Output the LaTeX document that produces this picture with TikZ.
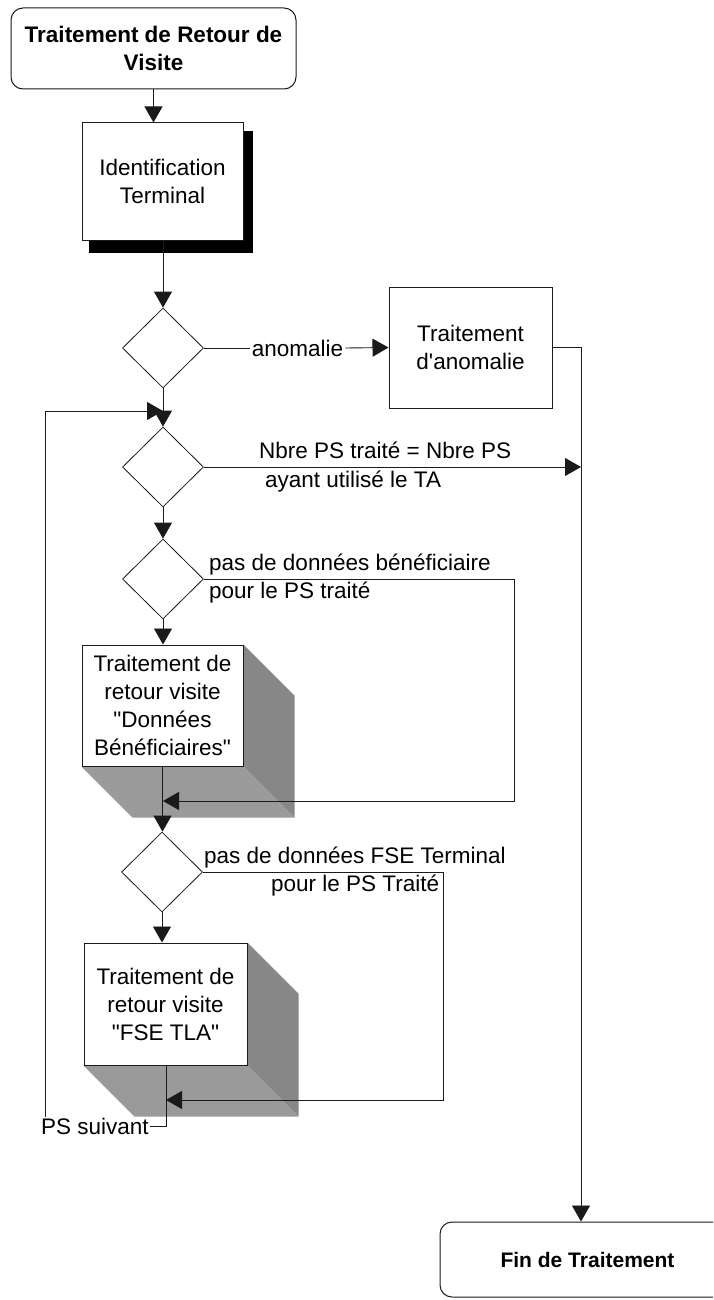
\documentclass[tikz,border=0pt]{standalone}
\usepackage{fontspec}
\setmainfont{Liberation Sans}[Ligatures=TeXOff]
\usetikzlibrary{shapes.geometric,arrows.meta,backgrounds}
\definecolor{ln}{HTML}{1A1A1A}
\definecolor{shA}{HTML}{878787}
\definecolor{shB}{HTML}{9A9A9A}
\tikzset{
  fnt/.style={font=\fontsize{22.5}{28}\selectfont},
  boxnode/.style={draw=ln, line width=1pt, fill=white, inner sep=0pt, align=center, fnt},
  term/.style={boxnode, rounded corners=12pt, font=\fontsize{22.5}{28}\selectfont\bfseries},
  dec/.style={diamond, draw=ln, line width=0.8pt, fill=white, inner sep=0pt, minimum width=81pt, minimum height=80pt},
  conn/.style={draw=ln, line width=0.9pt},
  arr/.style={conn, -{Triangle[length=16pt,width=18pt]}},
  lbl/.style={fnt, inner sep=0pt},
}
\begin{document}
\begin{tikzpicture}[x=1pt,y=-1pt]
\useasboundingbox (0,0) rectangle (713,1300);
\clip (0,0) rectangle (713,1300);

% nodes
\node[term, minimum width=285pt, minimum height=81pt] (start) at (153.5,48.5) {Traitement de Retour de\\Visite};
\node[boxnode, minimum width=161pt, minimum height=117pt] (ident) at (162.5,181.5) {Identification\\Terminal};
\node[dec] (d1) at (163,348) {};
\node[boxnode, minimum width=163pt, minimum height=121pt] (anom) at (470.5,347.5) {Traitement\\d'anomalie};
\node[dec] (d2) at (163,467) {};
\node[dec] (d3) at (163,579) {};
\node[boxnode, minimum width=161pt, minimum height=121pt] (db) at (162.5,705.5) {Traitement de\\retour visite\\"Données\\Bénéficiaires"};
\node[dec] (d4) at (162,872) {};
\node[boxnode, minimum width=163pt, minimum height=122pt] (fse) at (165.5,1004) {Traitement de\\retour visite\\"FSE TLA"};
\node[term, minimum width=295pt, minimum height=75pt, font=\fontsize{21}{26}\selectfont\bfseries] (fin) at (587.5,1259.5) {Fin de Traitement};

% shadows
\begin{scope}[on background layer]
  \fill[black] ([shift={(7,9)}]ident.north west) rectangle ([shift={(9,12)}]ident.south east);
  \fill[shA] (db.north east) -- ([shift={(51,51)}]db.north east) -- ([shift={(51,51)}]db.south east) -- (db.south east) -- cycle;
  \fill[shB] (db.south west) -- (db.south east) -- ([shift={(51,51)}]db.south east) -- ([shift={(51,51)}]db.south west) -- cycle;
  \fill[shA] (fse.north east) -- ([shift={(51,51)}]fse.north east) -- ([shift={(51,51)}]fse.south east) -- (fse.south east) -- cycle;
  \fill[shB] (fse.south west) -- (fse.south east) -- ([shift={(51,51)}]fse.south east) -- ([shift={(51,51)}]fse.south west) -- cycle;
\end{scope}

% labels
\node[lbl, fill=white, inner xsep=2pt, inner ysep=1pt] (lanom) at (297.5,348) {anomalie};
\node[lbl, anchor=base west] (lnbre1) at (259,458) {Nbre PS traité = Nbre PS};
\node[lbl, anchor=base west] (lnbre2) at (265,487) {ayant utilisé le TA};
\node[lbl, anchor=base west] (lben1) at (209,570) {pas de données bénéficiaire};
\node[lbl, anchor=base west] (lben2) at (209,598) {pour le PS traité};
\node[lbl, anchor=base west] (lfse1) at (204,863) {pas de données FSE Terminal};
\node[lbl, anchor=base west] (lfse2) at (271,891) {pour le PS Traité};
\node[lbl, anchor=base west, fill=white, inner xsep=1pt, inner ysep=1pt] (pssuiv) at (40,1134) {PS suivant};

% helper coordinates
\coordinate (railx) at (581,0);
\coordinate (b1) at (514,801);
\coordinate (b2) at (443,1100);
\coordinate (fsex) at (166,0);
\coordinate (loopTop) at (45,411);

% connectors
\draw[arr] (start.south) -- (start.south |- ident.north);
\draw[arr] (d1.north |- ident.south) -- (d1.north);
\draw[conn] (d1.east) -- (lanom.west);
\draw[arr] (lanom.east) -- (anom.west);
\draw[arr] (anom.east) -| (fin.north -| railx);
\draw[arr] (d1.south) -- (d2.north);
\draw[arr] (d2.east) -- (d2.east -| railx);
\draw[arr] (d2.south) -- (d3.north);
\draw[arr] (d3.south) -- (d3.south |- db.north);
\draw[arr] (d3.east) -| (b1) -- (b1 -| d3);
\draw[arr] (db.south) -- (db.south |- d4.north);
\draw[arr] (d4.south) -- (d4.south |- fse.north);
\draw[arr] (d4.east) -| (b2) -- (b2 -| fsex);
\draw[conn] (fse.south -| fsex) |- (pssuiv.east);
\draw[arr] (pssuiv.north -| loopTop) -- (loopTop) -- (loopTop -| d2);
\end{tikzpicture}
\end{document}
